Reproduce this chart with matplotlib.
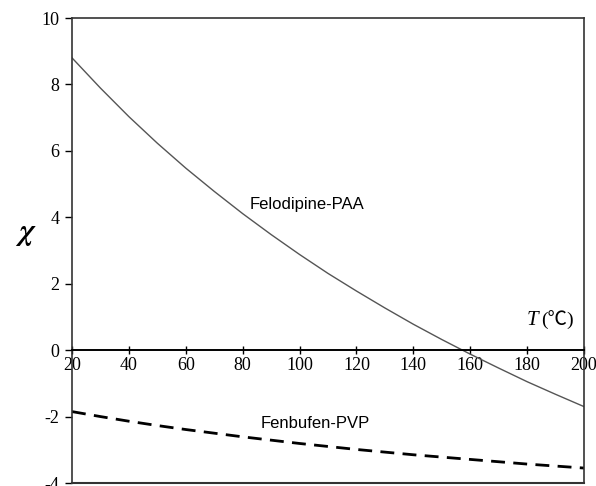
import matplotlib
matplotlib.use("Agg")
import matplotlib.pyplot as plt

# temperature (deg C) and Flory-Huggins parameter
temp = [20, 30, 40, 50, 60, 70, 80, 90, 100, 110, 120, 130, 140, 150, 160, 170, 180, 190, 200]
chi_felodipine = [8.80, 7.89, 7.03, 6.23, 5.48, 4.78, 4.11, 3.48, 2.88, 2.31, 1.78, 1.27,
                  0.78, 0.32, -0.12, -0.54, -0.95, -1.33, -1.70]
chi_fenbufen = [-1.85, -2.00, -2.14, -2.27, -2.39, -2.50, -2.61, -2.71, -2.81, -2.90, -2.99,
                -3.07, -3.15, -3.22, -3.29, -3.36, -3.43, -3.49, -3.55]

xticks = [20, 40, 60, 80, 100, 120, 140, 160, 180, 200]
yticks = [-4, -2, 0, 2, 4, 6, 8, 10]
ytick_labels = ["-4", "-2", "0", "2", "4", "6", "8", "10"]

serif = ['Liberation Serif', 'DejaVu Serif']
sans = ['Liberation Sans', 'DejaVu Sans']

fig = plt.figure(figsize=(5.96, 4.86), dpi=100)
ax = fig.add_axes([72/596, 3/486, 512/596, 465/486])

ax.plot(temp, chi_felodipine, color='#555555', lw=1.0)
ax.plot(temp, chi_fenbufen, color='black', lw=2.0, dashes=(5, 3))

ax.set_xlim(20, 200)
ax.set_ylim(-4, 10)

# x axis crosses at zero, box drawn around
for s in ['left', 'right', 'top']:
    ax.spines[s].set_color('#333333')
    ax.spines[s].set_linewidth(1.2)
ax.spines['bottom'].set_position(('data', 0))
ax.spines['bottom'].set_color('black')
ax.spines['bottom'].set_linewidth(1.4)
ax.axhline(-4, color='#333333', lw=1.5, clip_on=False)

ax.set_xticks(xticks)
ax.set_xticklabels([str(t) for t in xticks], family=serif, fontsize=13)
ax.set_yticks(yticks)
ax.set_yticklabels(ytick_labels, family=serif, fontsize=13)
ax.tick_params(axis='x', direction='inout', length=6, width=1.0, pad=2)
ax.tick_params(axis='y', direction='out', length=5, width=1.0, pad=4)

ax.text(102.5, 4.4, 'Felodipine-PAA', ha='center', va='center', family=sans, fontsize=12)
ax.text(105.5, -2.2, 'Fenbufen-PVP', ha='center', va='center', family=sans, fontsize=12)

# axis title "T (℃)" inside the plot
ax.text(184.0, 0.9, 'T', ha='right', va='center', family=serif,
        fontstyle='italic', fontsize=15)
ax.text(185.0, 0.9, '(℃)', ha='left', va='center',
        family=['Liberation Serif', 'Noto Sans CJK SC', 'DejaVu Sans'], fontsize=14)

fig.text(25/596, 1 - 232/486, 'χ', ha='center', va='center', family=['STIXGeneral'],
         fontsize=22, fontstyle='italic', fontweight='bold')

fig.savefig('out.png', dpi=100)
